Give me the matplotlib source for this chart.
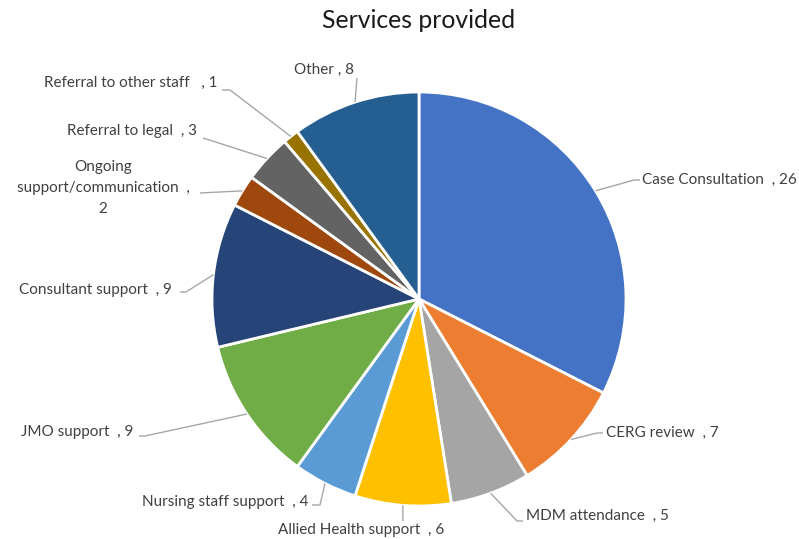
import matplotlib
matplotlib.use("Agg")
import matplotlib.pyplot as plt
import numpy as np

categories = ["Case Consultation", "CERG review", "MDM attendance", "Allied Health support",
              "Nursing staff support", "JMO support", "Consultant support",
              "Ongoing\nsupport/communication", "Referral to legal", "Referral to other staff", "Other"]
values = [26, 7, 5, 6, 4, 9, 9, 2, 3, 1, 8]
colors = ["#4472C4", "#ED7D31", "#A5A5A5", "#FFC000", "#5B9BD5", "#70AD47",
          "#264478", "#9E480E", "#636363", "#997300", "#255E91"]
label_texts = ["Case Consultation  , 26", "CERG review  , 7", "MDM attendance  , 5",
               "Allied Health support  , 6", "Nursing staff support  , 4", "JMO support  , 9",
               "Consultant support  , 9", "Ongoing\nsupport/communication  ,\n2",
               "Referral to legal  , 3", "Referral to other staff   , 1", "Other , 8"]

W, H = 799, 539
fig = plt.figure(figsize=(W / 100, H / 100), dpi=100)
ax = fig.add_axes([0, 0, 1, 1])

cx, cy, R = 419, H - 299, 207
ax.pie(values, colors=colors, startangle=90, counterclock=False, center=(cx, cy), radius=R,
       wedgeprops=dict(edgecolor="white", linewidth=2), frame=True)
ax.set_xlim(0, W)
ax.set_ylim(0, H)
ax.set_aspect("equal")
ax.axis("off")

# label layout (pixel coords from top): route points after wedge edge, text pos, alignment
layout = [
    ([(634, 180), (640, 180)], (642, 180), "left"),
    ([(597, 433), (603, 433)], (606, 433), "left"),
    ([(517, 521), (523, 521)], (526, 516), "left"),
    ([(403, 521)], (361, 530), "center"),
    ([(320, 505), (312, 505)], (308, 502), "right"),
    ([(145, 436), (139, 436)], (133, 432), "right"),
    ([(186, 292), (180, 292)], (172, 290), "right"),
    ([(200, 193)], (103, 188), "center"),
    ([(203, 138)], (197, 131), "right"),
    ([(230, 90), (222, 90)], (218, 83), "right"),
    ([(357, 78)], (354, 70), "right"),
]

total = sum(values)
cum = 0
for v, txt, (pts, tpos, ha) in zip(values, label_texts, layout):
    mid = 90 - 360 * (cum + v / 2) / total
    cum += v
    sx = cx + R * np.cos(np.radians(mid))
    sy = cy + R * np.sin(np.radians(mid))
    xs = [sx] + [p[0] for p in pts]
    ys = [sy] + [H - p[1] for p in pts]
    ax.plot(xs, ys, color="#A6A6A6", lw=1.0, solid_capstyle="butt")
    ax.text(tpos[0], H - tpos[1], txt, ha=ha, va="center", fontsize=11,
            color="#404040", family="Lato", linespacing=1.6, multialignment="center")

ax.text(419, H - 20, "Services provided", ha="center", va="center", fontsize=17.8,
        color="#1a1a1a", family="Lato")

fig.savefig("out.png", dpi=100)
